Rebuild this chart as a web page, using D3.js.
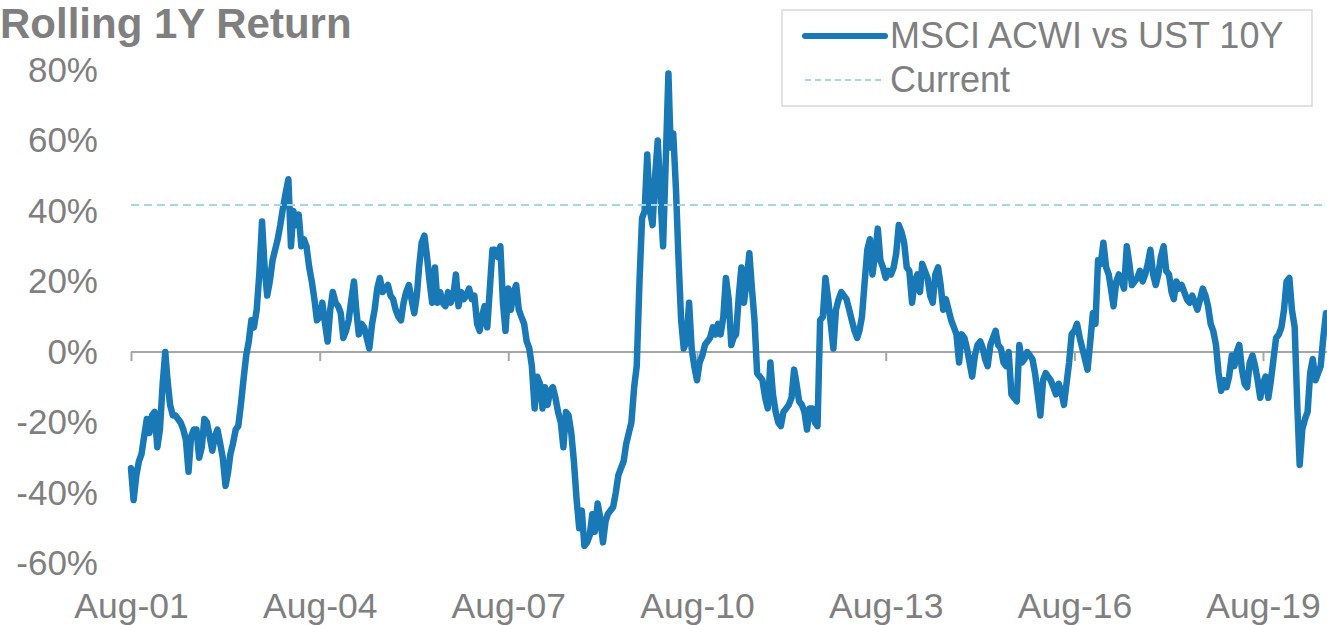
<!DOCTYPE html>
<html>
<head>
<meta charset="utf-8">
<script src="https://cdn.jsdelivr.net/npm/d3@7"></script>
<style>
  body { margin: 0; background: #fff; }
  svg { display: block; font-family: "Liberation Sans", Arial, sans-serif; }
</style>
</head>
<body>
<svg id="chart" width="1327" height="625"></svg>
<script>
// ---- data -------------------------------------------------------------
const chartTitle = "Rolling 1Y Return";
const seriesName = "MSCI ACWI vs UST 10Y";
const currentName = "Current";
const currentLevel = 41.7;            // latest reading, %
const firstObservation = "2001-08-01"; // semi-monthly observations (1st and 16th)

// Rolling 1-year return of MSCI ACWI relative to UST 10Y, % (one row = Aug..Jul)
const relReturn = [
  -33, -42, -35, -31, -29, -24, -19, -23, -18, -17, -27, -22, -9, 0, -8, -15, -18, -18, -19, -20, -22, -25, -34, -24,
  -22, -22, -30, -27, -19, -20, -24, -28, -24, -22, -26, -30, -38, -34, -29, -26, -22, -21, -15, -8, -1, 3, 9, 7,
  12, 22, 37, 24, 16, 20, 26, 29, 32, 36, 41, 45, 49, 30, 40, 36, 39, 30, 32, 30, 24, 20, 15, 9,
  10, 14, 8, 3, 12, 17, 14, 13, 11, 4, 6, 9, 15, 20, 12, 5, 8, 7, 4, 1, 8, 12, 18, 21,
  17, 18, 19, 16, 15, 12, 10, 9, 14, 17, 19, 15, 11, 16, 24, 31, 33, 27, 20, 14, 24, 14, 17, 14,
  13, 17, 14, 16, 22, 13, 17, 15, 16, 18, 15, 16, 8, 6, 10, 13, 7, 18, 29, 29, 27, 30, 14, 6,
  18, 12, 17, 19, 12, 10, 8, 3, 1, -4, -16, -7, -9, -16, -10, -15, -11, -10, -13, -17, -20, -27, -17, -18,
  -23, -31, -42, -50, -45, -55, -54, -52, -46, -51, -43, -47, -54, -48, -46, -45, -44, -40, -35, -33, -31, -26, -23, -20,
  -10, -4, 20, 38, 40, 56, 40, 36, 50, 60, 44, 30, 55, 79, 58, 62, 46, 26, 9, 1, 3, 14, 1, -4,
  -8, -3, -1, 2, 3, 4, 7, 5, 8, 5, 10, 21, 15, 2, 4, 5, 16, 24, 14, 20, 28, 18, 9, -6,
  -7, -8, -13, -16, -3, -12, -17, -20, -21, -17, -16, -15, -13, -5, -9, -14, -15, -17, -22, -16, -16, -20, -21, 9,
  10, 21, 15, 8, 1, 12, 15, 17, 16, 15, 12, 9, 6, 4, 6, 10, 20, 29, 32, 22, 28, 35, 26, 24,
  21, 23, 22, 24, 28, 36, 34, 31, 24, 23, 14, 20, 22, 17, 25, 23, 21, 16, 14, 22, 24, 19, 12, 15,
  12, 9, 7, 5, -3, 5, 4, 1, -3, -7, -1, 2, 3, 1, -2, -4, 2, 4, 6, 2, 1, -3, -4, 0,
  -12, -13, -14, 2, -3, -2, 0, -1, -2, -6, -12, -18, -8, -6, -7, -8, -10, -12, -9, -11, -15, -9, -3, 5,
  6, 8, 4, 1, -2, -5, 3, 11, 8, 26, 25, 31, 24, 22, 18, 13, 20, 22, 20, 18, 30, 25, 19, 20,
  21, 23, 20, 22, 25, 29, 22, 19, 22, 27, 30, 23, 22, 17, 15, 20, 18, 19, 17, 15, 14, 16, 14, 12,
  15, 18, 16, 13, 8, 6, 2, -6, -11, -8, -10, -7, -1, -4, 0, 2, -5, -9, -10, -3, -1, -4, -8, -13,
  -9, -7, -13, -8, -2, 4, 5, 7, 12, 20, 21, 12, 7, -15, -32, -22, -19, -17, -6, -2, -8, -6, -4, 4,
  11
];

const yTicks = [80, 60, 40, 20, 0, -20, -40, -60];
const xTickDates = ["2001-08-01", "2004-08-01", "2007-08-01", "2010-08-01",
                    "2013-08-01", "2016-08-01", "2019-08-01"];

// ---- setup ------------------------------------------------------------
const W = 1327, H = 625;
const textColor = "#7f7f7f";
const lineColor = "#1879b6";
const currentColor = "#a6d6e3";
const axisColor = "#a6a6a6";

const parse = d3.timeParse("%Y-%m-%d");
const start = parse(firstObservation);

// semi-monthly dates: 1st and 16th of each month
const series = relReturn.map((v, i) => {
  const m = start.getMonth() + Math.floor(i / 2);
  const date = new Date(start.getFullYear(), m, i % 2 ? 16 : 1);
  return { date, value: v };
});

const tickDates = xTickDates.map(parse);

const x = d3.scaleTime()
  .domain([tickDates[0], tickDates[tickDates.length - 1]])
  .range([131, 1263]);

const y = d3.scaleLinear()
  .domain([-60, 80])
  .range([563.5, 70]);

const svg = d3.select("#chart");

// title
svg.append("text")
  .attr("x", 0)
  .attr("y", 38)
  .attr("font-size", 42)
  .attr("font-weight", "bold")
  .attr("fill", textColor)
  .text(chartTitle);

// y labels
const yAxis = svg.append("g")
  .attr("transform", "translate(101,0)")
  .call(d3.axisLeft(y).tickValues(yTicks).tickFormat(d => d + "%").tickSize(0).tickPadding(3));
yAxis.select(".domain").remove();
yAxis.selectAll("text")
  .attr("font-size", 35)
  .attr("font-family", "Liberation Sans, Arial, sans-serif")
  .attr("fill", textColor);

// zero axis line with tick marks
svg.append("line")
  .attr("x1", x.range()[0])
  .attr("x2", W)
  .attr("y1", y(0))
  .attr("y2", y(0))
  .attr("stroke", axisColor)
  .attr("stroke-width", 2);

const tickAxis = svg.append("g")
  .attr("transform", `translate(0,${y(0)})`)
  .call(d3.axisBottom(x).tickValues(tickDates).tickSize(9).tickFormat(""));
tickAxis.select(".domain").remove();
tickAxis.selectAll("line").attr("stroke", axisColor).attr("stroke-width", 2);

// x labels along the bottom
const fmt = d3.timeFormat("%b-%y");
const xLabels = svg.append("g")
  .attr("transform", "translate(0,618)")
  .call(d3.axisBottom(x).tickValues(tickDates).tickFormat(fmt).tickSize(0).tickPadding(0));
xLabels.select(".domain").remove();
xLabels.selectAll("text")
  .attr("y", 0)
  .attr("dy", null)
  .attr("font-size", 35.5)
  .attr("font-family", "Liberation Sans, Arial, sans-serif")
  .attr("fill", textColor);

// series line
const line = d3.line()
  .x(d => x(d.date))
  .y(d => y(d.value));

svg.append("path")
  .datum(series)
  .attr("fill", "none")
  .attr("stroke", lineColor)
  .attr("stroke-width", 6.5)
  .attr("stroke-linejoin", "round")
  .attr("stroke-linecap", "round")
  .attr("d", line);

// current level
svg.append("line")
  .attr("x1", x.range()[0])
  .attr("x2", W)
  .attr("y1", y(currentLevel))
  .attr("y2", y(currentLevel))
  .attr("stroke", currentColor)
  .attr("stroke-width", 2)
  .attr("stroke-dasharray", "8,5");

// legend
const legend = svg.append("g");
legend.append("rect")
  .attr("x", 782).attr("y", 10)
  .attr("width", 530).attr("height", 96)
  .attr("fill", "#fff")
  .attr("stroke", "#d9d9d9")
  .attr("stroke-width", 1.5);

const legendItems = [
  { name: seriesName, color: lineColor, width: 6, dash: null, cy: 36 },
  { name: currentName, color: currentColor, width: 2, dash: "6,4", cy: 80 }
];
const li = legend.selectAll("g.item").data(legendItems).join("g").attr("class", "item");
li.append("line")
  .attr("x1", 805).attr("x2", 885)
  .attr("y1", d => d.cy).attr("y2", d => d.cy)
  .attr("stroke", d => d.color)
  .attr("stroke-width", d => d.width)
  .attr("stroke-linecap", d => d.dash ? "butt" : "round")
  .attr("stroke-dasharray", d => d.dash);
li.append("text")
  .attr("x", 890)
  .attr("y", d => d.cy + 12)
  .attr("font-size", 36)
  .attr("fill", textColor)
  .text(d => d.name);
</script>
</body>
</html>
